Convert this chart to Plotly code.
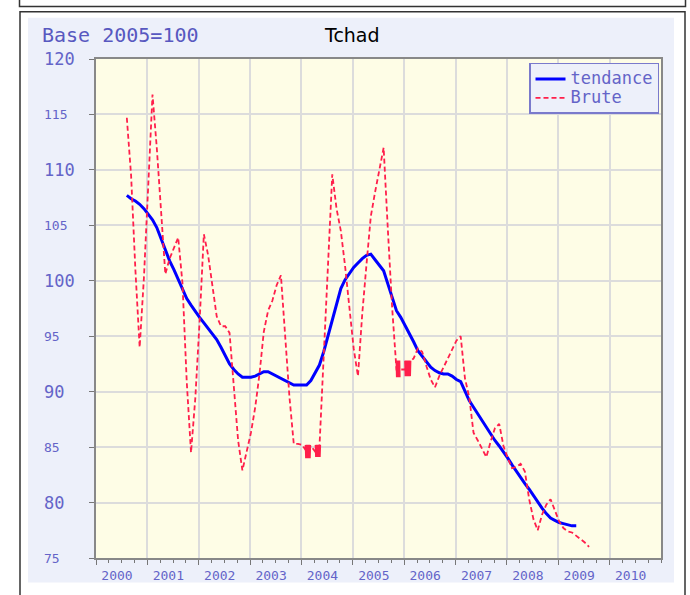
import plotly.graph_objects as go

# ---- data -------------------------------------------------------------
# Monthly index values, base 2005 = 100 (Tchad), first month ~ Aug 2000
start_year = 2000.6
month = 1 / 12

brute_values = [
    114.7, 109.5, 101.0, 94.0, 100.3, 108.2, 116.8, 112.0, 106.4, 100.6,
    102.0, 103.0, 103.9, 99.8, 90.9, 84.5, 89.4, 96.3, 104.2, 102.3,
    99.5, 96.8, 95.9, 95.9, 95.3, 90.7, 85.6, 82.9, 84.6, 86.3,
    88.6, 91.6, 95.4, 97.3, 98.2, 99.6, 100.5, 94.7, 89.5, 85.3,
    85.3, 85.2, 84.6, 85.1, 84.6, 85.0, 93.5, 102.5, 109.6, 106.5,
    104.5, 101.3, 97.8, 93.9, 91.4, 97.0, 101.5, 105.8, 108.0, 110.1,
    112.0, 104.5, 97.5, 92.0, 92.0, 92.0, 92.6, 93.0, 93.9, 93.6,
    92.3, 91.1, 90.4, 91.4, 92.2, 93.0, 93.7, 94.6, 95.0, 91.2,
    89.5, 86.3, 85.6, 84.8, 84.1, 85.5, 86.7, 87.1, 85.1, 84.0,
    83.1, 83.2, 83.5, 82.8, 80.3, 78.5, 77.5, 78.9, 79.8, 80.3,
    79.2, 78.3, 77.7, 77.4, 77.3, 77.0, 76.7, 76.4, 76.0,
]

# short bursts of rapid back-and-forth readings in the raw series
# (None separates one burst from the next)
burst_dates = [
    2004.078, 2004.086, 2004.094, 2004.102, 2004.110, 2004.118, 2004.126,
    2004.134, 2004.142, 2004.150, 2004.158, 2004.166, 2004.174, None,
    2004.272, 2004.280, 2004.288, 2004.296, 2004.304, 2004.312, 2004.320,
    2004.328, 2004.336, 2004.344, 2004.352, 2004.360, 2004.368, None,
    2005.846, 2005.854, 2005.862, 2005.870, 2005.878, 2005.886, 2005.894,
    2005.902, 2005.910, 2005.916, None,
    2006.014, 2006.022, 2006.030, 2006.038, 2006.046, 2006.054, 2006.062,
    2006.070, 2006.078, 2006.086, 2006.094, 2006.102, 2006.110, 2006.118,
    2006.126,
]
burst_values = [
    85.2, 84.0, 85.2, 84.0, 85.2, 84.0, 85.2, 84.0, 85.2, 84.0, 85.2, 84.0, 85.2, None,
    85.2, 84.1, 85.2, 84.1, 85.2, 84.1, 85.2, 84.1, 85.2, 84.1, 85.2, 84.1, 85.2, None,
    92.8, 91.3, 92.8, 91.3, 92.8, 91.3, 92.8, 91.3, 92.8, 91.3, None,
    92.8, 91.4, 92.8, 91.4, 92.8, 91.4, 92.8, 91.4, 92.8, 91.4, 92.8, 91.4,
    92.8, 91.4, 92.8,
]

tendance_values = [
    107.7, 107.4, 107.2, 106.9, 106.5, 106.0, 105.5, 104.8, 103.8, 102.8,
    101.8, 101.0, 100.1, 99.2, 98.4, 97.8, 97.2, 96.7, 96.2, 95.7,
    95.2, 94.7, 94.0, 93.3, 92.5, 92.0, 91.6, 91.3, 91.3, 91.3,
    91.4, 91.6, 91.8, 91.8, 91.6, 91.4, 91.2, 91.0, 90.8, 90.6,
    90.6, 90.6, 90.6, 91.0, 91.7, 92.4, 93.6, 95.0, 96.6, 98.0,
    99.3, 100.1, 100.7, 101.2, 101.6, 102.0, 102.3, 102.4, 101.9, 101.4,
    100.9, 99.7, 98.5, 97.3, 96.7, 96.0, 95.2, 94.5, 93.7, 93.2,
    92.7, 92.2, 91.9, 91.7, 91.6, 91.6, 91.4, 91.1, 90.9, 90.1,
    89.2, 88.6, 88.0, 87.4, 86.8, 86.1, 85.6, 85.1, 84.6, 84.0,
    83.4, 82.8, 82.3, 81.7, 81.2, 80.6, 80.0, 79.5, 79.0, 78.6,
    78.4, 78.2, 78.1, 78.0, 77.9, 77.9,
]

year_ticks = list(range(2000, 2011))
year_labels = [str(y) for y in year_ticks]
value_ticks = list(range(75, 121, 5))

# ---- series assembly ------------------------------------------------------
brute_dates = [start_year + i * month for i in range(len(brute_values))]
tendance_dates = [start_year + i * month for i in range(len(tendance_values))]

# ---- styling ----------------------------------------------------------------
W, H = 690, 595
PLOT_L, PLOT_R, PLOT_T, PLOT_B = 96, 661, 59, 567
MONO = "DejaVu Sans Mono"
LABEL_BLUE = "#6464C8"
PANEL = "#EDF0FA"
PLOT_BG = "#FEFDE6"
RED = "#FF1F4B"


def fx(p):
    return (p - PLOT_L) / (PLOT_R - PLOT_L)


def fy(p):
    return (PLOT_B - p) / (PLOT_B - PLOT_T)


def legend_name(s):
    return "<span style='font-size:17px'>%s</span>" % s


fig = go.Figure()
fig.add_trace(go.Scatter(
    x=tendance_dates, y=tendance_values, mode="lines",
    name=legend_name("tendance"),
    line=dict(color="#0000FF", width=3),
))
fig.add_trace(go.Scatter(
    x=brute_dates, y=brute_values, mode="lines", name=legend_name("Brute"),
    legendgroup="brute",
    line=dict(color=RED, width=1.8, dash="5px,3px"),
))
fig.add_trace(go.Scatter(
    x=burst_dates, y=burst_values, mode="lines", name="Brute",
    legendgroup="brute", showlegend=False, connectgaps=False,
    line=dict(color=RED, width=1.5),
))

shapes = [
    # light panel behind the chart
    dict(type="rect", xref="paper", yref="paper", layer="below",
         x0=fx(28), x1=fx(674), y0=fy(592), y1=fy(17),
         fillcolor=PANEL, line=dict(width=0)),
    # pale plotting area
    dict(type="rect", xref="paper", yref="paper", layer="below",
         x0=0, x1=1, y0=0, y1=1, fillcolor=PLOT_BG, line=dict(width=0)),
    # outer frames
    dict(type="rect", xref="paper", yref="paper", layer="below",
         x0=fx(19.5), x1=fx(685.5), y0=fy(5.5), y1=fy(-20),
         line=dict(color="#333333", width=1.5)),
    dict(type="rect", xref="paper", yref="paper", layer="below",
         x0=fx(20), x1=fx(685), y0=fy(640), y1=fy(11),
         line=dict(color="#333333", width=1.5)),
]

annotations = [
    dict(text="Base 2005=100", xref="paper", yref="paper", x=fx(40), y=fy(35),
         xanchor="left", yanchor="middle", showarrow=False,
         font=dict(family=MONO, size=20, color="#5858C0")),
    dict(text="Tchad", xref="paper", yref="paper", x=fx(352), y=fy(35),
         xanchor="center", yanchor="middle", showarrow=False,
         font=dict(family="DejaVu Sans", size=19, color="#000000")),
]
for v in value_ticks:
    annotations.append(dict(
        text=str(v), xref="paper", yref="y", x=fx(42), y=v,
        xanchor="left", yanchor="middle", showarrow=False,
        font=dict(family=MONO, size=17 if v % 10 == 0 else 13, color=LABEL_BLUE),
    ))

fig.update_layout(
    width=W, height=H,
    margin=dict(l=PLOT_L, r=W - PLOT_R, t=PLOT_T, b=H - PLOT_B),
    paper_bgcolor="white",
    plot_bgcolor="rgba(0,0,0,0)",
    shapes=shapes,
    annotations=annotations,
    legend=dict(
        x=fx(659), y=fy(63), xanchor="right", yanchor="top",
        bgcolor=PANEL, bordercolor="#7A7ACC", borderwidth=1.5,
        font=dict(family=MONO, size=12, color=LABEL_BLUE),
        tracegroupgap=0, itemwidth=30,
    ),
    xaxis=dict(
        range=[2000, 2011], tickmode="array", tickvals=year_ticks,
        ticktext=year_labels, ticks="outside", ticklen=5, tickcolor="#777777",
        ticklabelshift=21,
        tickfont=dict(family=MONO, size=13, color=LABEL_BLUE),
        showgrid=True, gridcolor="#DCDCDC", gridwidth=1.5,
        showline=True, linecolor="#888888", linewidth=1.5, mirror=True,
        zeroline=False,
        minor=dict(tickmode="linear", tick0=2000, dtick=0.25, ticks="outside",
                   ticklen=3, tickcolor="#777777", showgrid=False),
    ),
    yaxis=dict(
        range=[75, 120], tickmode="array", tickvals=value_ticks,
        showticklabels=False, ticks="outside", ticklen=5, tickcolor="#777777",
        showgrid=True, gridcolor="#DCDCDC", gridwidth=1.5,
        showline=True, linecolor="#888888", linewidth=1.5, mirror=True,
        zeroline=False,
    ),
)

fig.write_html("out.html", config={"displayModeBar": False})
